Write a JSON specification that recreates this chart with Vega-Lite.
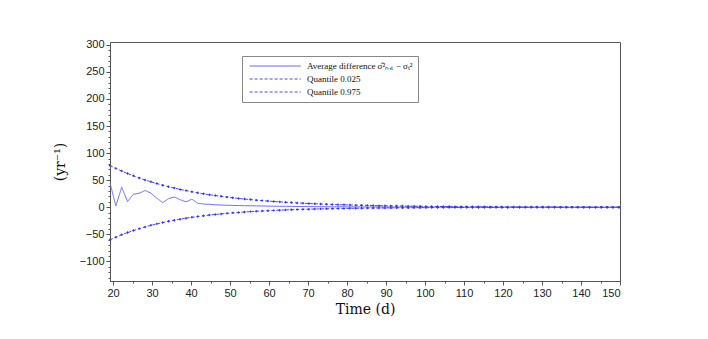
{
  "$schema": "https://vega.github.io/schema/vega-lite/v6.json",
  "width": 510,
  "height": 239,
  "autosize": {"type": "none"},
  "padding": {"left": 110, "top": 42, "right": 88, "bottom": 58},
  "background": "white",
  "config": {
    "view": {"stroke": "#555", "strokeWidth": 1},
    "axis": {"labelFont": "Liberation Sans", "labelFontSize": 11, "labelColor": "#222", "titleFont": "DejaVu Serif", "titleFontWeight": "normal", "titleFontSize": 14, "titleColor": "#111", "domainColor": "#555", "tickColor": "#555", "grid": false, "tickSize": 4}
  },
  "data": {"values": [
    {"t": 19.2, "avg": 45, "q025": -60.0, "q975": 77.0},
    {"t": 20.7, "avg": 2.5, "q025": -55.2, "q975": 71.8},
    {"t": 22.2, "avg": 37, "q025": -50.7, "q975": 66.9},
    {"t": 23.7, "avg": 10.5, "q025": -46.6, "q975": 62.3},
    {"t": 25.2, "avg": 24, "q025": -42.9, "q975": 58.1},
    {"t": 26.7, "avg": 26, "q025": -39.4, "q975": 54.1},
    {"t": 28.2, "avg": 31, "q025": -36.2, "q975": 50.4},
    {"t": 29.7, "avg": 26, "q025": -33.3, "q975": 47.0},
    {"t": 31.2, "avg": 17, "q025": -30.6, "q975": 43.8},
    {"t": 32.7, "avg": 8.5, "q025": -28.2, "q975": 40.8},
    {"t": 34.2, "avg": 16, "q025": -25.9, "q975": 38.0},
    {"t": 35.7, "avg": 19, "q025": -23.8, "q975": 35.5},
    {"t": 37.2, "avg": 14, "q025": -21.9, "q975": 33.0},
    {"t": 38.7, "avg": 10, "q025": -20.1, "q975": 30.8},
    {"t": 40.2, "avg": 15, "q025": -18.5, "q975": 28.7},
    {"t": 41.7, "avg": 7.5, "q025": -17.0, "q975": 26.7},
    {"t": 43.2, "avg": 6, "q025": -15.6, "q975": 24.9},
    {"t": 44.7, "avg": 5.5, "q025": -14.4, "q975": 23.2},
    {"t": 46.2, "avg": 4.6, "q025": -13.2, "q975": 21.6},
    {"t": 47.7, "avg": 4.2, "q025": -12.2, "q975": 20.2},
    {"t": 49.2, "avg": 3.8, "q025": -11.2, "q975": 18.8},
    {"t": 50.7, "avg": 3.5, "q025": -10.3, "q975": 17.5},
    {"t": 52.2, "avg": 3.2, "q025": -9.5, "q975": 16.3},
    {"t": 53.7, "avg": 3.0, "q025": -8.7, "q975": 15.2},
    {"t": 55.2, "avg": 2.8, "q025": -8.0, "q975": 14.2},
    {"t": 56.7, "avg": 2.6, "q025": -7.3, "q975": 13.2},
    {"t": 58.2, "avg": 2.4, "q025": -6.8, "q975": 12.3},
    {"t": 59.7, "avg": 2.2, "q025": -6.2, "q975": 11.5},
    {"t": 61.2, "avg": 2.0, "q025": -5.7, "q975": 10.7},
    {"t": 62.7, "avg": 1.9, "q025": -5.3, "q975": 10.0},
    {"t": 64.2, "avg": 1.8, "q025": -4.8, "q975": 9.3},
    {"t": 65.7, "avg": 1.6, "q025": -4.4, "q975": 8.7},
    {"t": 67.2, "avg": 1.5, "q025": -4.1, "q975": 8.1},
    {"t": 68.7, "avg": 1.4, "q025": -3.8, "q975": 7.5},
    {"t": 70.2, "avg": 1.3, "q025": -3.5, "q975": 7.0},
    {"t": 71.7, "avg": 1.2, "q025": -3.2, "q975": 6.5},
    {"t": 73.2, "avg": 1.1, "q025": -2.9, "q975": 6.1},
    {"t": 74.7, "avg": 1.0, "q025": -2.7, "q975": 5.7},
    {"t": 76.2, "avg": 0.95, "q025": -2.5, "q975": 5.3},
    {"t": 77.7, "avg": 0.9, "q025": -2.3, "q975": 4.9},
    {"t": 79.2, "avg": 0.85, "q025": -2.1, "q975": 4.6},
    {"t": 80.7, "avg": 0.8, "q025": -1.9, "q975": 4.3},
    {"t": 82.2, "avg": 0.75, "q025": -1.8, "q975": 4.0},
    {"t": 83.7, "avg": 0.7, "q025": -1.6, "q975": 3.7},
    {"t": 85.2, "avg": 0.65, "q025": -1.5, "q975": 3.5},
    {"t": 86.7, "avg": 0.6, "q025": -1.4, "q975": 3.2},
    {"t": 88.2, "avg": 0.58, "q025": -1.3, "q975": 3.0},
    {"t": 89.7, "avg": 0.55, "q025": -1.2, "q975": 2.8},
    {"t": 91.2, "avg": 0.52, "q025": -1.1, "q975": 2.6},
    {"t": 92.7, "avg": 0.5, "q025": -1.0, "q975": 2.4},
    {"t": 94.2, "avg": 0.47, "q025": -0.9, "q975": 2.3},
    {"t": 95.7, "avg": 0.45, "q025": -0.83, "q975": 2.1},
    {"t": 97.2, "avg": 0.43, "q025": -0.76, "q975": 2.0},
    {"t": 98.7, "avg": 0.41, "q025": -0.7, "q975": 1.8},
    {"t": 100.2, "avg": 0.39, "q025": -0.64, "q975": 1.7},
    {"t": 101.7, "avg": 0.37, "q025": -0.59, "q975": 1.6},
    {"t": 103.2, "avg": 0.35, "q025": -0.54, "q975": 1.5},
    {"t": 104.7, "avg": 0.33, "q025": -0.5, "q975": 1.4},
    {"t": 106.2, "avg": 0.31, "q025": -0.46, "q975": 1.3},
    {"t": 107.7, "avg": 0.3, "q025": -0.42, "q975": 1.2},
    {"t": 109.2, "avg": 0.29, "q025": -0.39, "q975": 1.12},
    {"t": 110.7, "avg": 0.28, "q025": -0.36, "q975": 1.04},
    {"t": 112.2, "avg": 0.27, "q025": -0.33, "q975": 0.97},
    {"t": 113.7, "avg": 0.26, "q025": -0.3, "q975": 0.91},
    {"t": 115.2, "avg": 0.25, "q025": -0.28, "q975": 0.85},
    {"t": 116.7, "avg": 0.24, "q025": -0.26, "q975": 0.79},
    {"t": 118.2, "avg": 0.23, "q025": -0.24, "q975": 0.74},
    {"t": 119.7, "avg": 0.22, "q025": -0.22, "q975": 0.69},
    {"t": 121.2, "avg": 0.21, "q025": -0.2, "q975": 0.64},
    {"t": 122.7, "avg": 0.2, "q025": -0.18, "q975": 0.6},
    {"t": 124.2, "avg": 0.19, "q025": -0.17, "q975": 0.56},
    {"t": 125.7, "avg": 0.18, "q025": -0.16, "q975": 0.52},
    {"t": 127.2, "avg": 0.17, "q025": -0.14, "q975": 0.48},
    {"t": 128.7, "avg": 0.16, "q025": -0.13, "q975": 0.45},
    {"t": 130.2, "avg": 0.15, "q025": -0.12, "q975": 0.42},
    {"t": 131.7, "avg": 0.14, "q025": -0.11, "q975": 0.39},
    {"t": 133.2, "avg": 0.13, "q025": -0.1, "q975": 0.36},
    {"t": 134.7, "avg": 0.12, "q025": -0.09, "q975": 0.34},
    {"t": 136.2, "avg": 0.12, "q025": -0.09, "q975": 0.32},
    {"t": 137.7, "avg": 0.11, "q025": -0.08, "q975": 0.3},
    {"t": 139.2, "avg": 0.1, "q025": -0.07, "q975": 0.28},
    {"t": 140.7, "avg": 0.1, "q025": -0.07, "q975": 0.26},
    {"t": 142.2, "avg": 0.09, "q025": -0.06, "q975": 0.24},
    {"t": 143.7, "avg": 0.09, "q025": -0.06, "q975": 0.22},
    {"t": 145.2, "avg": 0.08, "q025": -0.05, "q975": 0.21},
    {"t": 146.7, "avg": 0.08, "q025": -0.05, "q975": 0.19},
    {"t": 148.2, "avg": 0.07, "q025": -0.04, "q975": 0.18},
    {"t": 149.7, "avg": 0.07, "q025": -0.04, "q975": 0.17}
  ]},
  "transform": [
    {"fold": ["avg", "q025", "q975"], "as": ["key", "v"]},
    {"lookup": "key", "from": {"data": {"values": [
      {"key": "avg", "series": "Average difference σ̂²ₙ,ₜ − σₜ²"},
      {"key": "q025", "series": "Quantile 0.025"},
      {"key": "q975", "series": "Quantile 0.975"}
    ]}, "key": "key", "fields": ["series"]}}
  ],
  "resolve": {"axis": {"x": "independent", "y": "independent"}},
  "layer": [
    {
      "mark": {"type": "line", "strokeWidth": 1},
      "encoding": {
        "x": {"field": "t", "type": "quantitative", "scale": {"domain": [19.2, 150], "nice": false, "zero": false}, "axis": {"orient": "bottom", "values": [20, 30, 40, 50, 60, 70, 80, 90, 100, 110, 120, 130, 140, 150], "title": "Time (d)", "titlePadding": 4}},
        "y": {"field": "v", "type": "quantitative", "scale": {"domain": [-136, 305], "nice": false, "zero": false}, "axis": {"orient": "left", "values": [-100, -50, 0, 50, 100, 150, 200, 250, 300], "title": "(yr⁻¹)", "titlePadding": 12}},
        "detail": {"field": "series"},
        "color": {"field": "series", "type": "nominal", "scale": {"domain": ["Average difference σ̂²ₙ,ₜ − σₜ²", "Quantile 0.025", "Quantile 0.975"], "range": ["#6a6aff", "#4a4aff", "#4a4aff"]}, "legend": {"title": null, "orient": "none", "legendX": 132, "legendY": 14, "symbolType": "M-0.6,0L12.2,0", "symbolSize": 64, "symbolStrokeWidth": 1.2, "labelFont": "Liberation Serif", "labelFontSize": 9, "labelColor": "#111", "strokeColor": "#888", "fillColor": "white", "padding": 5, "rowPadding": 3, "labelOffset": 50}},
        "strokeDash": {"field": "series", "type": "nominal", "scale": {"domain": ["Average difference σ̂²ₙ,ₜ − σₜ²", "Quantile 0.025", "Quantile 0.975"], "range": [[1, 0], [3, 2], [3, 2]]}, "legend": null}
      }
    },
    {
      "transform": [{"filter": "datum.key != 'avg'"}],
      "mark": {"type": "point", "shape": "cross", "filled": true, "size": 6, "color": "#3333ff", "opacity": 1},
      "encoding": {
        "x": {"field": "t", "type": "quantitative", "axis": {"orient": "bottom", "values": [25, 35, 45, 55, 65, 75, 85, 95, 105, 115, 125, 135, 145], "labels": false, "domain": false, "tickSize": 2, "title": null}},
        "y": {"field": "v", "type": "quantitative", "axis": {"orient": "left", "values": [-130, -120, -110, -90, -80, -70, -60, -40, -30, -20, -10, 10, 20, 30, 40, 60, 70, 80, 90, 110, 120, 130, 140, 160, 170, 180, 190, 210, 220, 230, 240, 260, 270, 280, 290], "labels": false, "domain": false, "tickSize": 2, "title": null}}
      }
    }
  ]
}
